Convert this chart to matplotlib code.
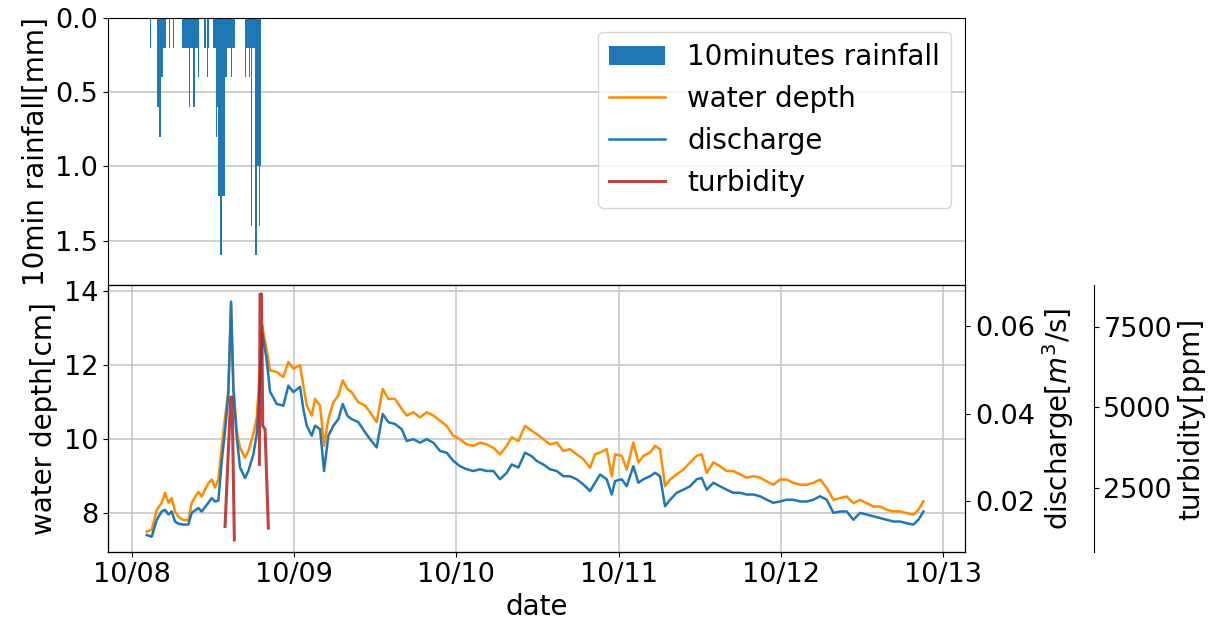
import datetime
import matplotlib
matplotlib.use('Agg')  # no display
import matplotlib.pyplot as plt
import matplotlib.dates as mdates

plt.rcParams['font.size'] = 20
plt.rcParams['xtick.labelsize'] = 19.5
plt.rcParams['ytick.labelsize'] = 19.5

start = datetime.datetime(2018, 10, 8)

# 10 minutes rainfall [mm], one value every 10 min starting 10/08 02:40
rain_start = start + datetime.timedelta(minutes=160)
rain = [0.2, 0, 0, 0, 0, 0, 0, 0.6, 0.8, 0.8, 0.4, 0.4, 0.2, 0.2, 0.2, 0, 0, 0.2,
        0, 0, 0, 0.2, 0, 0, 0, 0, 0, 0, 0, 0.2, 0.2, 0.2, 0.2, 0.2, 0.2, 0.6,
        0.2, 0.2, 0.2, 0.6, 0.2, 0.2, 0.2, 0.4, 0, 0, 0, 0, 0.2, 0.2, 0, 0.4,
        0.2, 0, 0, 0, 0.2, 0.2, 0.2, 0.8, 0.6, 1.2, 1.2, 1.6, 1.2, 1.2, 1.2,
        0.4, 0.4, 0.2, 0.2, 0.2, 0.4, 0.2, 0.2, 0.2, 0, 0, 0, 0, 0, 0, 0, 0, 0,
        0.4, 0.2, 0.2, 0.4, 0.2, 1.4, 0.2, 0.2, 0.2, 1.6, 1.0, 1.0, 1.4, 1.0]

# hours since 10/08 00:00
hours = [2.17, 2.91, 3.65, 4.39, 4.88, 5.38, 5.87, 6.36, 6.85, 7.60, 8.33, 8.83,
         9.81, 10.31, 10.80, 11.29, 11.79, 12.28, 12.77, 13.27, 13.76, 14.25,
         14.65, 14.99, 15.49, 15.98, 16.72, 17.21, 17.95, 18.45, 18.94, 19.28,
         19.93, 20.42, 21.41, 22.39, 23.13, 23.87, 24.86, 25.35, 25.85, 26.59,
         27.08, 27.82, 28.41, 29.05, 29.79, 30.53, 31.17, 31.86, 32.50, 33.49,
         34.48, 35.22, 36.20, 37.09, 37.93, 38.91, 39.90, 40.64, 41.63, 42.61,
         43.60, 44.59, 45.57, 46.56, 47.55, 48.53, 49.52, 50.51, 51.49, 52.48,
         53.47, 54.45, 55.44, 56.18, 57.17, 58.15, 59.14, 59.88, 60.87, 61.85,
         62.84, 63.83, 64.81, 65.80, 66.79, 67.77, 68.51, 69.25, 70.24, 70.98,
         71.47, 72.46, 73.20, 74.18, 74.92, 75.66, 76.65, 77.39, 78.13, 78.87,
         79.61, 80.59, 81.58, 82.57, 83.56, 84.30, 85.03, 86.02, 87.01, 87.99,
         88.98, 89.97, 90.95, 91.94, 92.93, 93.91, 94.90, 95.89, 96.87, 97.86,
         98.85, 99.84, 100.82, 101.81, 102.80, 103.78, 104.77, 105.76, 106.74,
         107.73, 108.72, 109.70, 110.69, 111.68, 112.66, 113.65, 114.64, 115.62,
         116.36, 117.10]

depth = [7.49, 7.54, 8.08, 8.27, 8.54, 8.27, 8.40, 8.03, 7.90, 7.80, 7.80, 8.27,
         8.57, 8.44, 8.63, 8.80, 8.90, 8.68, 8.90, 9.80, 10.58, 11.31,
         13.67, 11.49, 10.22, 9.76, 9.49, 9.67, 10.13, 10.58, 11.95, 13.04,
         12.40, 11.85, 11.81, 11.67, 12.08, 11.90, 11.99, 11.44, 10.90, 10.63,
         11.08, 10.90, 9.81, 10.54, 10.99, 11.17, 11.58, 11.35, 11.26, 10.99,
         10.90, 10.72, 10.45, 11.35, 11.08, 11.08, 10.81, 10.63, 10.72, 10.58,
         10.72, 10.63, 10.49, 10.35, 10.08, 9.99, 9.85, 9.81, 9.90, 9.85,
         9.76, 9.58, 9.81, 10.04, 9.94, 10.35, 10.22, 10.13, 9.99, 9.85,
         9.90, 9.67, 9.72, 9.58, 9.45, 9.22, 9.58, 9.63, 9.72, 8.99,
         9.58, 9.54, 9.17, 9.90, 9.36, 9.54, 9.63, 9.81, 9.72, 8.72,
         8.90, 9.04, 9.17, 9.36, 9.54, 9.58, 9.08, 9.36, 9.26, 9.13,
         9.13, 9.04, 8.95, 8.99, 8.95, 8.85, 8.76, 8.90, 8.90, 8.81,
         8.76, 8.76, 8.81, 8.90, 8.67, 8.35, 8.40, 8.44, 8.26,
         8.35, 8.26, 8.17, 8.17, 8.08, 8.04, 8.04, 7.99, 7.95,
         8.08, 8.31]

discharge = [0.0121, 0.0117, 0.0156, 0.0175, 0.0179, 0.0168, 0.0175, 0.0152,
             0.0147, 0.0145, 0.0145, 0.0172, 0.0183, 0.0175, 0.0185, 0.0195,
             0.0206, 0.0198, 0.0200, 0.0290, 0.0360, 0.0445, 0.0657, 0.0453,
             0.0346, 0.0276, 0.0252, 0.0268, 0.0306, 0.0353, 0.0468, 0.0584,
             0.0522, 0.0450, 0.0422, 0.0418, 0.0464, 0.0449, 0.0461, 0.0410,
             0.0372, 0.0349, 0.0372, 0.0364, 0.0268, 0.0349, 0.0372, 0.0387,
             0.0422, 0.0395, 0.0387, 0.0380, 0.0357, 0.0341, 0.0322, 0.0399,
             0.0380, 0.0376, 0.0364, 0.0337, 0.0341, 0.0333, 0.0341, 0.0333,
             0.0314, 0.0310, 0.0291, 0.0279, 0.0272, 0.0268, 0.0272, 0.0268,
             0.0268, 0.0249, 0.0264, 0.0283, 0.0276, 0.0310, 0.0302, 0.0291,
             0.0283, 0.0272, 0.0268, 0.0256, 0.0256, 0.0249, 0.0237, 0.0222,
             0.0241, 0.0260, 0.0249, 0.0214, 0.0245, 0.0249, 0.0233, 0.0279,
             0.0241, 0.0249, 0.0256, 0.0264, 0.0256, 0.0187, 0.0202, 0.0218,
             0.0225, 0.0233, 0.0249, 0.0252, 0.0225, 0.0241, 0.0233, 0.0225,
             0.0218, 0.0218, 0.0214, 0.0214, 0.0210, 0.0202, 0.0195, 0.0198,
             0.0202, 0.0202, 0.0198, 0.0198, 0.0202, 0.0210, 0.0202, 0.0172,
             0.0175, 0.0175, 0.0156, 0.0172, 0.0168, 0.0164, 0.0160, 0.0156,
             0.0152, 0.0152, 0.0148, 0.0145, 0.0156, 0.0175]

# turbidity only recorded during the two peaks (nan = no data in between)
turb_hours = [13.76, 14.60, 14.80, 15.14, 17.00, 18.84, 18.94, 19.16, 19.34, 19.68, 20.17]
turbidity = [1283, 5321, 5321, 865, float('nan'), 3223, 8538, 8538, 4418, 4324, 1233]


def to_time(h_list):
    return [start + datetime.timedelta(hours=h) for h in h_list]


rain_times = [rain_start + datetime.timedelta(minutes=10 * i) for i in range(len(rain))]

fig, (ax1, ax2) = plt.subplots(2, 1, sharex=True, figsize=(12.25, 6.28), dpi=100)
fig.subplots_adjust(left=0.0882, right=0.7878, top=0.9713, bottom=0.121, hspace=0.0)

# rainfall (upside down)
bars = ax1.bar(rain_times, rain, width=1 / 144.0, color='#1f77b4',
               label='10minutes rainfall')
ax1.set_ylim(1.8, 0)
ax1.set_yticks([0.0, 0.5, 1.0, 1.5])
ax1.set_ylabel('10min rainfall[mm]')
ax1.grid(axis='y', color='#c8c8c8', lw=1.2)
ax1.set_axisbelow(True)

# water depth / discharge / turbidity
l1, = ax2.plot(to_time(hours), depth, color='darkorange', lw=1.8, label='water depth')
ax2.set_ylim(6.94, 14.16)
ax2.set_yticks([8, 10, 12, 14])
ax2.set_ylabel('water depth[cm]')
ax2.set_xlabel('date')
ax2.grid(color='#c8c8c8', lw=1.2)

ax3 = ax2.twinx()
l2, = ax3.plot(to_time(hours), discharge, color='#1f77b4', lw=1.8, label='discharge')
ax3.set_ylim(0.0082, 0.0695)
ax3.set_yticks([0.02, 0.04, 0.06])
ax3.set_ylabel('discharge[$m^3$/s]')

ax4 = ax2.twinx()
ax4.spines['right'].set_position(('axes', 1.15))
l3, = ax4.plot(to_time(turb_hours), turbidity, color='firebrick', lw=2.2, alpha=0.85,
               label='turbidity')
ax4.set_ylim(487, 8820)
ax4.set_yticks([2500, 5000, 7500])
ax4.set_ylabel('turbidity[ppm]')

ax2.set_xlim(start - datetime.timedelta(days=0.148), start + datetime.timedelta(days=5.136))
ax2.xaxis.set_major_locator(mdates.DayLocator())
ax2.xaxis.set_major_formatter(mdates.DateFormatter('%m/%d'))

ax1.legend([bars, l1, l2, l3], ['10minutes rainfall', 'water depth', 'discharge', 'turbidity'],
           loc='upper right', fontsize=20)

plt.savefig('out.png')
